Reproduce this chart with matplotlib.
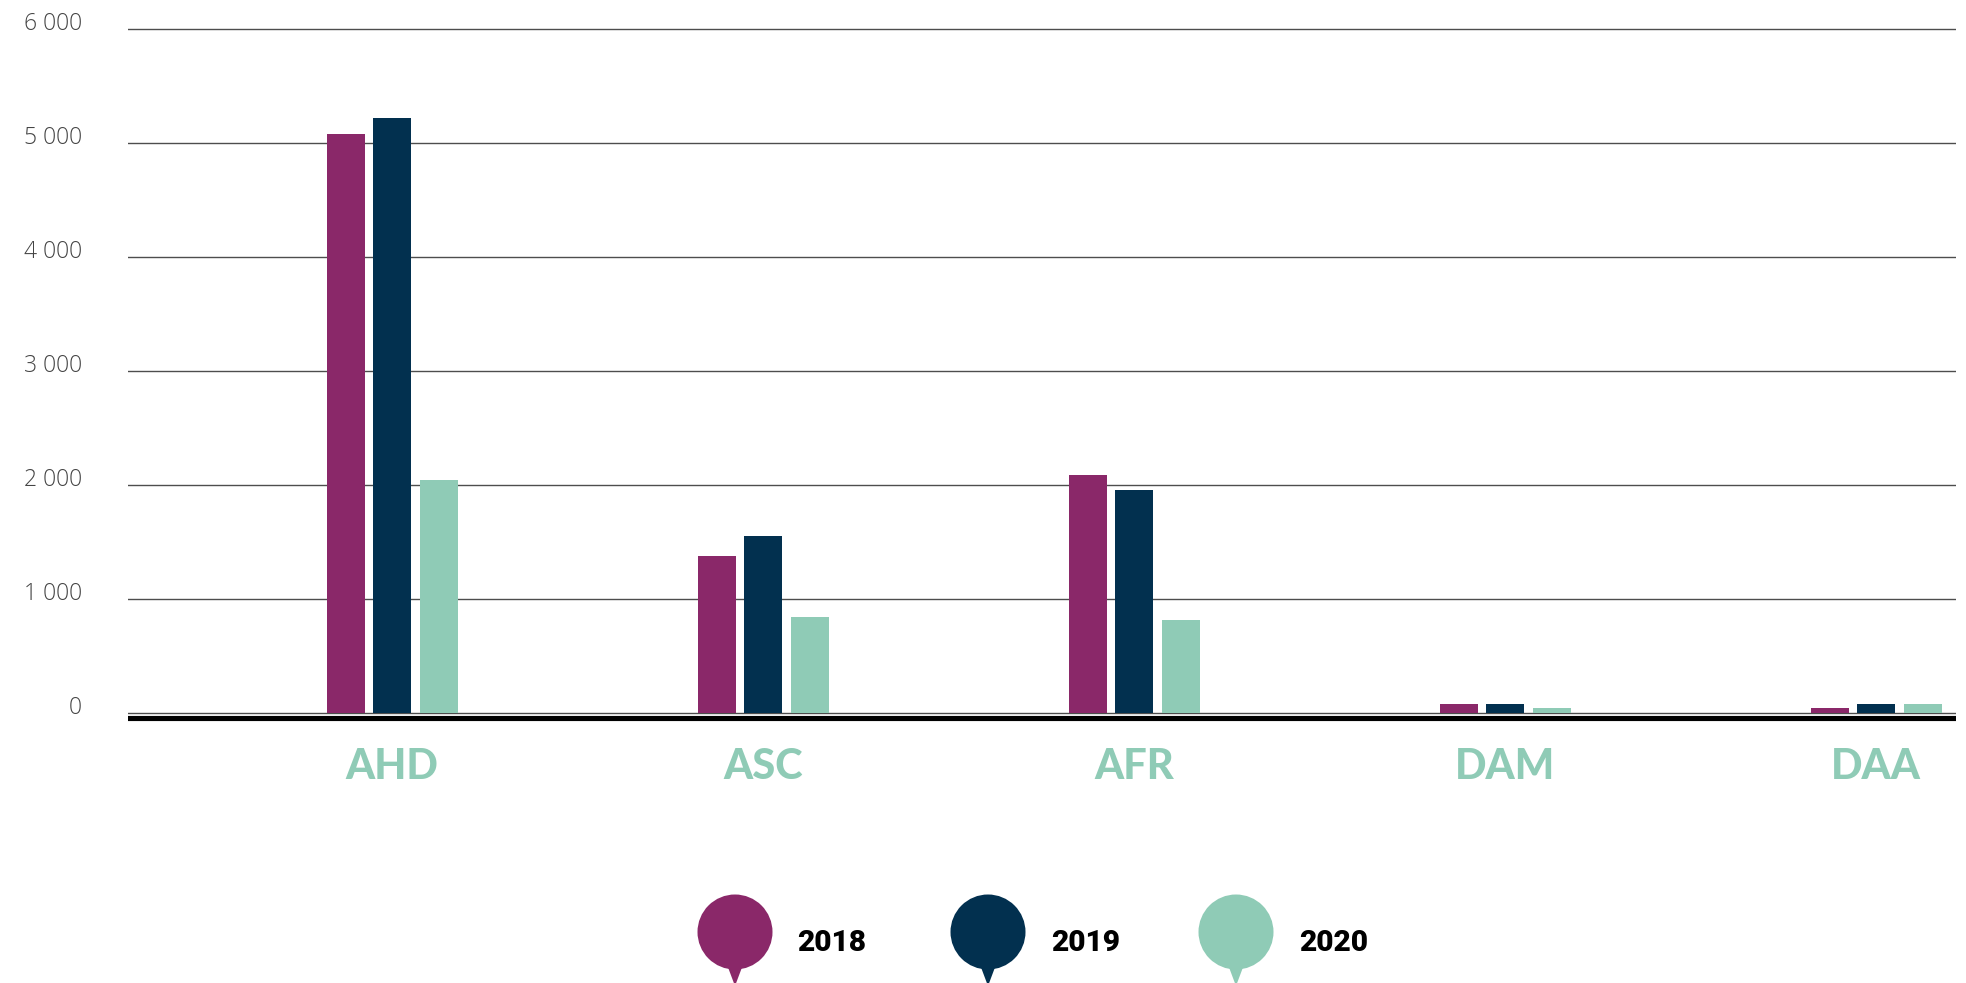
#!/usr/bin/python3
'''
Grouped bars per category, years 2018-2020, balloon legend underneath.
'''

#------------------
# Import
#------------------

import matplotlib
matplotlib.use("Agg")
import matplotlib.pyplot as plt
from matplotlib.patches import Circle, Polygon
from matplotlib.transforms import blended_transform_factory, offset_copy

#------------------
# Data
#------------------

categories = ["AHD", "ASC", "AFR", "DAM", "DAA"]
years = ["2018", "2019", "2020"]
values_2018 = [5080, 1380, 2090, 80, 40]
values_2019 = [5220, 1550, 1960, 80, 80]
values_2020 = [2040, 840, 820, 40, 80]
y_ticks = [0, 1000, 2000, 3000, 4000, 5000, 6000]
y_tick_labels = ["0", "1 000", "2 000", "3 000", "4 000", "5 000", "6 000"]

colors = ["#8a2869", "#02304f", "#8fcbb6"]

#------------------
# Figure
#------------------

W, H = 1966, 983
fig = plt.figure(figsize=(W / 100, H / 100), dpi=100)

# axes: x from px 128 to 1956, y value 0 at px 713, 6000 at px 29
px_per_unit = (713 - 29) / 6000
y_bot = -80
y_top = 6100
ax_bottom_px = 713 + (0 - y_bot) * px_per_unit
ax_top_px = 29 - (y_top - 6000) * px_per_unit
ax = fig.add_axes([128 / W, (H - ax_bottom_px) / H,
                   (1956 - 128) / W, (ax_bottom_px - ax_top_px) / H])

step = 371.0
x_left = (128 - 392) / step
x_right = (1956 - 392) / step
ax.set_xlim(x_left, x_right)
ax.set_ylim(y_bot, y_top)

for t in y_ticks:
    ax.axhline(t, color="#4d4d4d", lw=1.0, zorder=1)

bar_w = 38 / step
offset = 46.5 / step
series = [values_2018, values_2019, values_2020]
for k, vals in enumerate(series):
    xs = [i + (k - 1) * offset for i in range(len(categories))]
    ax.bar(xs, vals, width=bar_w, color=colors[k], zorder=2, linewidth=0)

# thick black baseline
ax.axhline(-45, color="black", lw=3.7, zorder=3)

for s in ax.spines.values():
    s.set_visible(False)
ax.set_xticks([])
ax.set_yticks([])

# y labels, right aligned at px 82, sitting a bit above the grid lines
trans = blended_transform_factory(fig.transFigure, ax.transData)
trans = offset_copy(trans, fig=fig, x=0, y=5, units="dots")
for t, lab in zip(y_ticks, y_tick_labels):
    ax.text(82 / W, t, lab, transform=trans, ha="right", va="center",
            fontsize=16.5, color="#444444", family=["Open Sans", "DejaVu Sans"],
            fontweight="light")

# category labels
trans_c = blended_transform_factory(ax.transData, fig.transFigure)
for i, cat in enumerate(categories):
    ax.text(i, (H - 767) / H, cat, transform=trans_c, ha="center", va="center",
            fontsize=30, color="#8fcbb6", family=["Lato", "DejaVu Sans"],
            fontweight=900)

#------------------
# Legend (balloon markers)
#------------------

lg = fig.add_axes([0, 0, 1, 1])
lg.set_xlim(0, W)
lg.set_ylim(H, 0)
lg.axis("off")

circle_x = [735, 988, 1236]
text_x = [797, 1051, 1299]
cy = 932
r = 37.5
for k, year in enumerate(years):
    cx = circle_x[k]
    lg.add_patch(Circle((cx, cy), r, color=colors[k], lw=0))
    lg.add_patch(Polygon([(cx - 9, cy + 30), (cx + 9, cy + 30), (cx, cy + 54)],
                         closed=True, color=colors[k], lw=0))
    lg.text(text_x[k], 943, year, ha="left", va="center", fontsize=21.5,
            fontweight=900, color="black",
            family=["Roboto", "DejaVu Sans"])

fig.savefig("out.png", dpi=100)
